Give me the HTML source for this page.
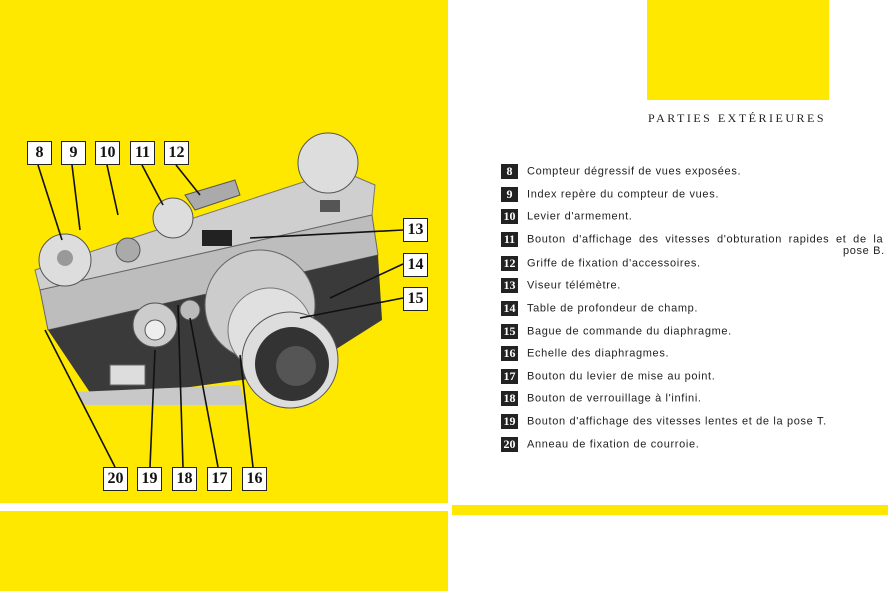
<!DOCTYPE html>
<html><head><meta charset="utf-8"><style>
*{margin:0;padding:0}
body{width:888px;height:591px;position:relative;background:#fff;overflow:hidden;font-family:"Liberation Sans",sans-serif}
.y{position:absolute;background:#ffe800}
.lb{position:absolute;width:23px;height:22px;border:1px solid #222;background:#fff;font:bold 16px "Liberation Serif",serif;text-align:center;line-height:22px;color:#111}
.row{position:absolute;left:501px;font-size:11px;letter-spacing:.65px;color:#222;white-space:nowrap}
.row b{display:inline-block;width:17px;height:15px;background:#222;color:#fff;font:bold 12px "Liberation Serif",serif;text-align:center;line-height:15px;margin-right:9px;vertical-align:middle;letter-spacing:0}
</style></head><body>
<div class="y" style="left:0;top:0;width:448px;height:503px"></div>
<div class="y" style="left:0;top:511px;width:448px;height:80px"></div>
<div class="y" style="left:452px;top:505px;width:436px;height:10px"></div>
<div class="y" style="left:647px;top:0;width:182px;height:100px"></div>
<svg style="position:absolute;left:0;top:0" width="448" height="503">
<polygon points="35,270 340,170 375,185 372,215 40,290" fill="#cfcfcf" stroke="#777"/>
<polygon points="40,290 372,215 378,255 48,330" fill="#bdbdbd" stroke="#666"/>
<polygon points="48,330 378,255 382,320 300,372 95,400" fill="#3a3a3a"/>
<polygon points="75,392 240,385 245,405 85,405" fill="#c8c8c8"/>
<circle cx="65" cy="260" r="26" fill="#ddd" stroke="#555"/>
<circle cx="65" cy="258" r="8" fill="#999"/>
<circle cx="128" cy="250" r="12" fill="#aaa" stroke="#555"/>
<circle cx="173" cy="218" r="20" fill="#ddd" stroke="#555"/>
<polygon points="185,195 235,180 240,195 195,210" fill="#aaa" stroke="#555"/>
<circle cx="328" cy="163" r="30" fill="#ddd" stroke="#555"/>
<rect x="320" y="200" width="20" height="12" fill="#555"/>
<rect x="202" y="230" width="30" height="16" fill="#222"/>
<circle cx="155" cy="325" r="22" fill="#ccc" stroke="#555"/>
<circle cx="155" cy="330" r="10" fill="#eee" stroke="#555"/>
<circle cx="190" cy="310" r="10" fill="#bbb" stroke="#555"/>
<rect x="110" y="365" width="35" height="20" fill="#ddd" stroke="#666"/>
<circle cx="260" cy="305" r="55" fill="#ccc" stroke="#666"/>
<circle cx="270" cy="330" r="42" fill="#e0e0e0" stroke="#777"/>
<circle cx="290" cy="360" r="48" fill="#ddd" stroke="#555"/>
<circle cx="292" cy="364" r="37" fill="#333"/>
<circle cx="296" cy="366" r="20" fill="#555"/>
<g stroke="#111" stroke-width="1.6" fill="none">
<line x1="38" y1="165" x2="62" y2="240"/><line x1="72" y1="165" x2="80" y2="230"/>
<line x1="107" y1="165" x2="118" y2="215"/><line x1="142" y1="165" x2="163" y2="205"/>
<line x1="176" y1="165" x2="200" y2="195"/><line x1="403" y1="230" x2="250" y2="238"/>
<line x1="403" y1="264" x2="330" y2="298"/><line x1="403" y1="298" x2="300" y2="318"/>
<line x1="115" y1="467" x2="45" y2="330"/><line x1="150" y1="467" x2="155" y2="350"/>
<line x1="183" y1="467" x2="178" y2="305"/><line x1="218" y1="467" x2="190" y2="318"/>
<line x1="253" y1="467" x2="240" y2="355"/>
</g>
</svg>
<div class="lb" style="left:27px;top:141px">8</div>
<div class="lb" style="left:61px;top:141px">9</div>
<div class="lb" style="left:95px;top:141px">10</div>
<div class="lb" style="left:130px;top:141px">11</div>
<div class="lb" style="left:164px;top:141px">12</div>
<div class="lb" style="left:403px;top:218px">13</div>
<div class="lb" style="left:403px;top:253px">14</div>
<div class="lb" style="left:403px;top:287px">15</div>
<div class="lb" style="left:103px;top:467px">20</div>
<div class="lb" style="left:137px;top:467px">19</div>
<div class="lb" style="left:172px;top:467px">18</div>
<div class="lb" style="left:207px;top:467px">17</div>
<div class="lb" style="left:242px;top:467px">16</div>
<div style="position:absolute;left:648px;top:111px;font:12px 'Liberation Serif',serif;letter-spacing:2.5px;color:#222">PARTIES EXTÉRIEURES</div>
<div class="row" style="top:164px"><b>8</b>Compteur dégressif de vues exposées.</div>
<div class="row" style="top:187px"><b>9</b>Index repère du compteur de vues.</div>
<div class="row" style="top:209px"><b>10</b>Levier d'armement.</div>
<div class="row" style="top:232px;word-spacing:3px"><b>11</b>Bouton d'affichage des vitesses d'obturation rapides et de la</div>
<div class="row" style="top:245px;left:843px">pose B.</div>
<div class="row" style="top:256px"><b>12</b>Griffe de fixation d'accessoires.</div>
<div class="row" style="top:278px"><b>13</b>Viseur télémètre.</div>
<div class="row" style="top:301px"><b>14</b>Table de profondeur de champ.</div>
<div class="row" style="top:324px"><b>15</b>Bague de commande du diaphragme.</div>
<div class="row" style="top:346px"><b>16</b>Echelle des diaphragmes.</div>
<div class="row" style="top:369px"><b>17</b>Bouton du levier de mise au point.</div>
<div class="row" style="top:391px"><b>18</b>Bouton de verrouillage à l'infini.</div>
<div class="row" style="top:414px"><b>19</b>Bouton d'affichage des vitesses lentes et de la pose T.</div>
<div class="row" style="top:437px"><b>20</b>Anneau de fixation de courroie.</div>
</body></html>
